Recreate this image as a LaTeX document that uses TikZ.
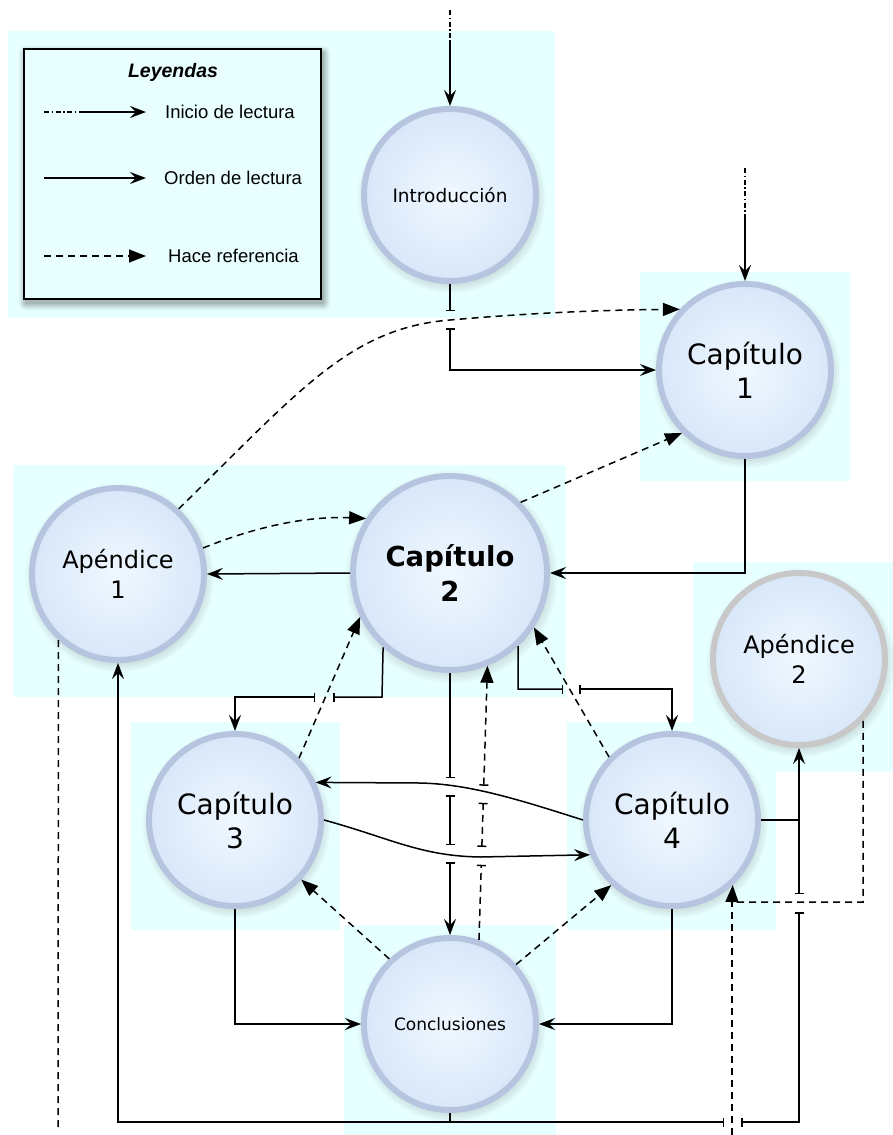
\documentclass[tikz,border=0pt]{standalone}
\usepackage{fontspec}
\setmainfont{DejaVu Sans}
\newfontfamily\legfont{Liberation Sans}
\usetikzlibrary{arrows.meta,shadows,fadings,calc}
\definecolor{bgc}{RGB}{230,255,255}
\definecolor{legc}{RGB}{233,255,255}
\definecolor{ringc}{RGB}{182,196,224}
\definecolor{ringg}{RGB}{200,200,200}
\definecolor{fin}{RGB}{240,248,255}
\definecolor{fout}{RGB}{216,231,249}
\tikzset{
  st/.tip={Stealth[length=16pt,width=12pt,inset=6pt]},
  rt/.tip={Triangle[length=17pt,width=13pt]},
  hb/.tip={Bar[width=9pt]},
  bubble/.style={circle, inner sep=0pt, minimum size=172pt, line width=6pt,
    draw=ringc, inner color=fin, outer color=fout, align=center,
    circular drop shadow={shadow xshift=1pt, shadow yshift=-3pt, shadow scale=1.1, opacity=0.35}},
  bigbubble/.style={bubble, minimum size=194pt},
  flow/.style={line width=1.5pt, draw=black},
  refline/.style={line width=1.5pt, draw=black, dash pattern=on 7pt off 5pt},
  startline/.style={line width=1.5pt, draw=black, dash pattern=on 5pt off 2.5pt on 1.5pt off 2.5pt},
  legbox/.style={draw=black, line width=1.8pt, fill=legc, minimum width=297pt, minimum height=250pt, inner sep=0pt},
  legtext/.style={font=\legfont\fontsize{18.5}{22}\selectfont, anchor=base west, inner sep=0pt},
  bgbox/.style={fill=bgc}
}
\begin{document}
\begin{tikzpicture}[x=1pt,y=-1pt]
\useasboundingbox (0,0) rectangle (893,1135);
% background panels
\fill[bgbox] (8,31) rectangle (555,318);
\fill[bgbox] (640,272) rectangle (850,481);
\fill[bgbox] (13,465) rectangle (566,697);
\fill[bgbox] (131,722) rectangle (340,930);
\fill[bgbox] (567,722) rectangle (776,930);
\fill[bgbox] (693,562) rectangle (893,772);
\fill[bgbox] (344,925) rectangle (556,1135);
% legend
\foreach \k/\o in {7/0.05,5/0.07,3/0.09,1/0.1}{
  \fill[black,opacity=\o,rounded corners=\k pt] (24-\k+2,49-\k+4) rectangle (321+\k+2,299+\k+4);
}
\node[legbox] (leg) at (172.5,174) {};
\node[font=\legfont\fontsize{19.5}{22}\selectfont\bfseries\itshape, anchor=base, inner sep=0pt] (legtitle) at (173,77) {Leyendas};
\node[legtext] (lt1) at (165,118) {Inicio de lectura};
\node[legtext] (lt2) at (164,184) {Orden de lectura};
\node[legtext] (lt3) at (168,262) {Hace referencia};
\coordinate (l1a) at (44,112); \coordinate (l1b) at (80,112); \coordinate (l1c) at (146,112);
\coordinate (l2a) at (44,178); \coordinate (l2c) at (146,178);
\coordinate (l3a) at (44,256); \coordinate (l3c) at (146,256);
\draw[startline] (l1a) -- (l1b);
\draw[flow,-st] (l1b) -- (l1c);
\draw[flow,-st] (l2a) -- (l2c);
\draw[refline,-rt] (l3a) -- (l3c);
% nodes
\node[bubble, font=\fontsize{18.5}{22}\selectfont] (intro) at (450,195) {Introducción};
\node[bubble, font=\fontsize{28}{34}\selectfont] (cap1) at (745,370) {Capítulo\\1};
\node[bigbubble, font=\fontsize{27.5}{35}\selectfont\bfseries] (cap2) at (450,573) {Capítulo\\2};
\node[bubble, font=\fontsize{24}{30}\selectfont] (ap1) at (118,574) {Apéndice\\1};
\node[bubble, draw=ringg, font=\fontsize{24}{30}\selectfont] (ap2) at (799,659) {Apéndice\\2};
\node[bubble, font=\fontsize{28}{34}\selectfont] (cap3) at (235,820) {Capítulo\\3};
\node[bubble, font=\fontsize{28}{34}\selectfont] (cap4) at (672,820) {Capítulo\\4};
\node[bubble, font=\fontsize{17}{20}\selectfont] (concl) at (450,1024) {Conclusiones};
% start arrows
\coordinate (s1a) at (450,10); \coordinate (s1b) at (450,40);
\draw[startline] (s1a) -- (s1b);
\draw[flow,-st] (s1b) -- (intro.north);
\coordinate (s2a) at (745,168); \coordinate (s2b) at (745,217);
\draw[startline] (s2a) -- (s2b);
\draw[flow,-st] (s2b) -- (cap1.north);
% Intro -> Cap1 with hop
\draw[flow,-hb] (intro.south) -- (450,311);
\draw[flow,hb-st] (450,328) |- (cap1.west);
% Ap1 -> Cap1 reference curve
\draw[refline,-rt] (ap1.47) .. controls (300,390) and (350,328) .. (450,320)
   .. controls (530,313) and (600,310) .. (cap1.137);
% Cap1 -> Cap2
\draw[flow,-st] (cap1.south) |- (cap2.east);
% Cap2 -> Cap1 reference
\draw[refline,-rt] (cap2.45) -- (cap1.225);
% Ap1 -> Cap2 reference
\draw[refline,-rt] (ap1.17.6) .. controls (260,525) and (310,516) .. (cap2.147);
% Cap2 -> Ap1
\draw[flow,-st] (cap2.west) -- (ap1.east);
% Cap2 -> Cap3 with hop
\draw[flow,-hb] (cap2.-132.9) -- (382,697) -- (333,697);
\draw[flow,hb-st] (315,697) -| (cap3.north);
% Cap3 -> Cap2 reference
\draw[refline,-rt] (cap3.44.5) -- (cap2.206);
% Cap2 -> Cap4 with hop
\draw[flow,-hb] (cap2.-47.1) -- (518,689) -- (563,689);
\draw[flow,hb-st] (579,689) -| (cap4.north);
% Cap4 -> Cap2 reference
\draw[refline,-rt] (cap4.135) -- (cap2.-33);
% Cap2 -> Conclusiones with hops
\draw[flow,-hb] (cap2.south) -- (450,778);
\draw[flow,hb-hb] (450,795) -- (450,845);
\draw[flow,hb-st] (450,862) -- (concl.north);
% Conclusiones -> Cap2 reference with hops
\draw[refline,-hb] (concl.71) -- ($(concl.71)!0.274!(cap2.-68)$);
\draw[refline,hb-hb] ($(concl.71)!0.339!(cap2.-68)$) -- ($(concl.71)!0.5!(cap2.-68)$);
\draw[refline,hb-rt] ($(concl.71)!0.562!(cap2.-68)$) -- (cap2.-68);
% Cap4 <-> Cap3 curves
\draw[flow,-st] (cap4.west) .. controls (520,800) and (470,784) .. (420,783) -- (cap3.25);
\draw[flow,-st] (cap3.east) .. controls (390,838) and (420,856) .. (480,857) -- (cap4.203);
% Cap3 / Cap4 -> Conclusiones
\draw[flow,-st] (cap3.south) |- (concl.west);
\draw[flow,-st] (cap4.south) |- (concl.east);
% Conclusiones -> Cap3 / Cap4 references
\draw[refline,-rt] (concl.133) -- (cap3.-42);
\draw[refline,-rt] (concl.42) -- (cap4.227);
% Conclusiones -> Ap1 / Ap2
\coordinate (cb) at (450,1122);
\draw[flow,-st] (concl.south) -- (cb) -| (ap1.south);
\draw[flow,-hb] (cb) -- (724,1122);
\draw[flow,hb-hb] (741,1122) -| (799,912);
\draw[flow,hb-st] (799,894) -- (ap2.south);
% Cap4 -> Ap2
\draw[flow] (cap4.east) -- (799,820);
% Ap2 -> Cap4 reference
\coordinate (c4ref) at (732,902);
\coordinate (c4low) at (732,1135);
\draw[refline,-rt] (ap2.-44.5) |- (c4ref) -- (cap4.-47.6);
\draw[refline] (c4low) -- (c4ref);
% Ap1 reference going down
\coordinate (a1low) at (58,1130);
\draw[refline] (ap1.-132.4) -- (a1low);
\end{tikzpicture}
\end{document}
